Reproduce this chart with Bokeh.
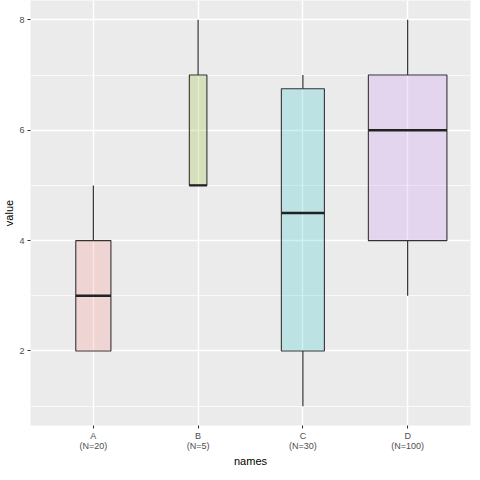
####################################################
#                     Imports                      #
####################################################

import math
from bokeh.plotting import figure
from bokeh.models import ColumnDataSource, Range1d, FixedTicker
from bokeh.embed import file_html
from bokeh.resources import INLINE


####################################################
#                       Data                       #
####################################################

names = ["A", "B", "C", "D"]
counts = [20, 5, 30, 100]
lower = [2, 5, 1, 3]
q1 = [2, 5, 2, 4]
median = [3, 5, 4.5, 6]
q3 = [4, 7, 6.75, 7]
upper = [5, 8, 7, 8]
colors = ["#F8766D", "#7CAE00", "#00BFC4", "#C77CFF"]

y_ticks = [2, 4, 6, 8]
y_minor = [1, 3, 5, 7]


####################################################
#                  Helper Methods                  #
####################################################

# box widths scale with sqrt(N), like varwidth in ggplot
def get_source():
    max_n = max(counts)
    x = [i + 1 for i in range(len(names))]
    widths = [0.75 * math.sqrt(n / max_n) for n in counts]
    return ColumnDataSource(dict(
        x=x, width=widths,
        left=[xi - w / 2 for xi, w in zip(x, widths)],
        right=[xi + w / 2 for xi, w in zip(x, widths)],
        lower=lower, q1=q1, median=median, q3=q3, upper=upper,
        color=colors,
    ))


def get_figure():
    lo = min(lower)
    hi = max(upper)
    pad = (hi - lo) * 0.05
    return figure(
        frame_width=440, frame_height=425,
        x_range=Range1d(0.4, len(names) + 0.6),
        y_range=Range1d(lo - pad, hi + pad),
        x_axis_label="names", y_axis_label="value",
        output_backend="svg", toolbar_location=None,
        min_border_left=19, min_border_right=2,
        min_border_top=0, min_border_bottom=30,
    )


def configure_plot(p):
    p.background_fill_color = "#EBEBEB"
    p.border_fill_color = "white"
    p.outline_line_color = None

    p.xaxis.ticker = FixedTicker(ticks=[i + 1 for i in range(len(names))])
    p.xaxis.major_label_overrides = {
        i + 1: "%s\n(N=%d)" % (n, c) for i, (n, c) in enumerate(zip(names, counts))
    }
    p.yaxis.ticker = FixedTicker(ticks=y_ticks, minor_ticks=y_minor)

    p.xgrid.grid_line_color = "white"
    p.xgrid.grid_line_width = 1.4
    p.ygrid.grid_line_color = "white"
    p.ygrid.grid_line_width = 1.4
    p.ygrid.minor_grid_line_color = "white"
    p.ygrid.minor_grid_line_width = 0.7

    p.axis.axis_line_color = None
    p.axis.major_tick_line_color = "#333333"
    p.axis.major_tick_line_width = 1.1
    p.axis.major_tick_in = 0
    p.axis.major_tick_out = 3
    p.axis.minor_tick_line_color = None
    p.axis.major_label_text_color = "#4D4D4D"
    p.axis.major_label_text_font = "Liberation Sans"
    p.axis.major_label_text_font_size = "9px"
    p.axis.major_label_text_line_height = 1.0
    p.axis.major_label_standoff = 2
    p.axis.axis_label_text_font = "Liberation Sans"
    p.axis.axis_label_text_font_size = "11px"
    p.axis.axis_label_text_font_style = "normal"
    p.axis.axis_label_text_color = "black"
    p.axis.axis_label_text_line_height = 1.0
    p.axis.axis_label_standoff = 1


def draw_boxes(p, source):
    # whiskers
    p.segment(x0="x", y0="q3", x1="x", y1="upper", source=source,
              line_color="#333333", line_width=1.2)
    p.segment(x0="x", y0="lower", x1="x", y1="q1", source=source,
              line_color="#333333", line_width=1.2)
    # boxes
    p.quad(left="left", right="right", bottom="q1", top="q3", source=source,
           fill_color="color", fill_alpha=0.2,
           line_color="#333333", line_width=1.1)
    # medians
    p.segment(x0="left", y0="median", x1="right", y1="median", source=source,
              line_color="#222222", line_width=2.4)


####################################################
#                   Execution                      #
####################################################

p = get_figure()
configure_plot(p)
draw_boxes(p, get_source())

open("out.html", "w").write(file_html(p, INLINE))
